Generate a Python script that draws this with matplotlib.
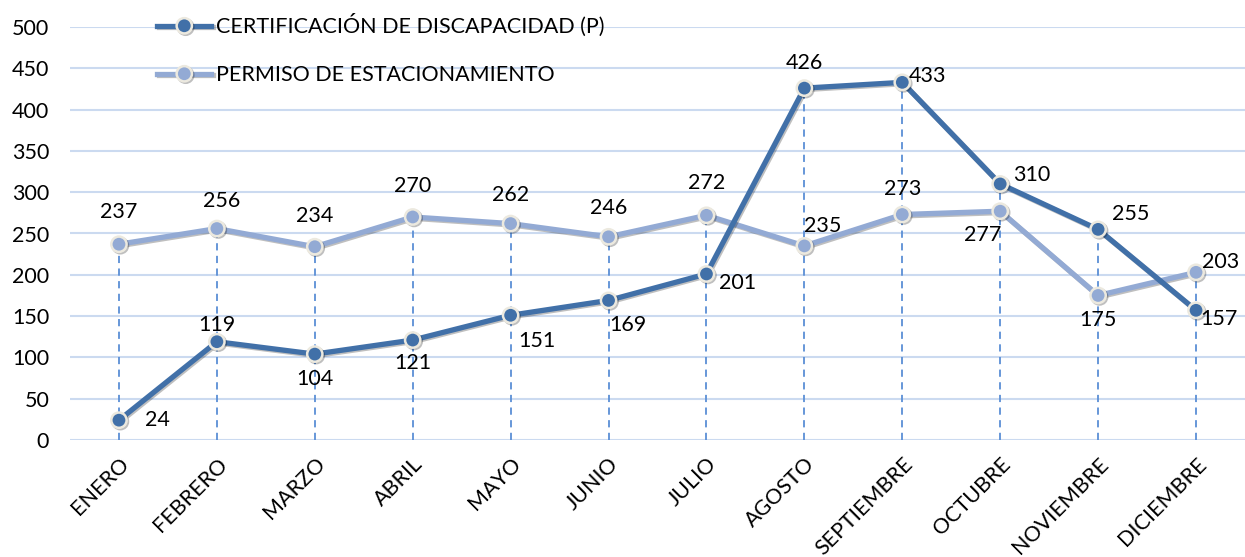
import matplotlib
matplotlib.use("Agg")
import matplotlib.pyplot as plt
import matplotlib.patheffects as pe

plt.rcParams["font.family"] = ["Lato", "DejaVu Sans"]

meses = ["ENERO", "FEBRERO", "MARZO", "ABRIL", "MAYO", "JUNIO", "JULIO",
         "AGOSTO", "SEPTIEMBRE", "OCTUBRE", "NOVIEMBRE", "DICIEMBRE"]
certificacion = [24, 119, 104, 121, 151, 169, 201, 426, 433, 310, 255, 157]
permiso = [237, 256, 234, 270, 262, 246, 272, 235, 273, 277, 175, 203]

# desplazamiento de etiquetas (px) por punto: (dx, dy) medido en la imagen, dy hacia arriba
off_cert = [(38, 0), (0, 17), (0, -25), (0, -23), (26, -26), (19, -25), (31, -9),
            (0, 25), (25, 6), (32, 9), (33, 15), (23, -9)]
off_perm = [(0, 32), (5, 28), (0, 31), (0, 31), (0, 29), (0, 29), (0, 32),
            (18, 20), (0, 26), (-18, -24), (0, -25), (25, 10)]

DARK = "#4170a8"
LIGHT = "#93aad4"
GRID = "#cbdaf0"
DROP = "#5b8fd6"
FS = 15.5

fig = plt.figure(figsize=(12.45, 5.57), dpi=100)
ax = fig.add_axes([70 / 1245, 1 - 440 / 557, 1 - 70 / 1245, (440 - 27) / 557])

x = list(range(len(meses)))

# líneas de caída
for i in x:
    ax.plot([i, i], [0, max(certificacion[i], permiso[i])], color=DROP,
            linestyle=(0, (4, 3)), linewidth=1.3, zorder=1)

shadow = [pe.SimpleLineShadow(offset=(1, -1), alpha=0.25), pe.Normal()]
ax.plot(x, permiso, color=LIGHT, linewidth=3.8, marker="o", markersize=11,
        markerfacecolor=LIGHT, markeredgecolor="#ece9df", markeredgewidth=1.8,
        label="PERMISO DE ESTACIONAMIENTO", zorder=3, path_effects=shadow)
ax.plot(x, certificacion, color=DARK, linewidth=3.8, marker="o", markersize=11,
        markerfacecolor=DARK, markeredgecolor="#ece9df", markeredgewidth=1.8,
        label="CERTIFICACIÓN DE DISCAPACIDAD (P)", zorder=4, path_effects=shadow)

k = 0.72
for i in x:
    dx, dy = off_cert[i]
    ax.annotate(str(certificacion[i]), (i, certificacion[i]), xytext=(dx * k, dy * k),
                textcoords="offset points", ha="center", va="center", fontsize=FS, zorder=6)
    dx, dy = off_perm[i]
    ax.annotate(str(permiso[i]), (i, permiso[i]), xytext=(dx * k, dy * k),
                textcoords="offset points", ha="center", va="center", fontsize=FS, zorder=6)

ax.set_xlim(-0.5, len(meses) - 0.5)
ax.set_ylim(0, 500)
ax.set_yticks(range(0, 501, 50))
ax.grid(axis="y", color=GRID, linewidth=1.5)
ax.set_axisbelow(True)
for s in ax.spines.values():
    s.set_visible(False)
ax.tick_params(length=0, labelsize=FS)
ax.tick_params(axis="y", pad=15)
ax.set_xticks(x)
ax.set_xticklabels(meses, rotation=45, ha="right", rotation_mode="anchor")
ax.tick_params(axis="x", pad=10)

h, l = ax.get_legend_handles_labels()
ax.legend(h[::-1], l[::-1], loc="upper left", bbox_to_anchor=(68 / 1175, 1.078),
          frameon=False, fontsize=FS, handlelength=2.5, handletextpad=0.2,
          labelspacing=1.3)

fig.savefig("out.png", dpi=100)
